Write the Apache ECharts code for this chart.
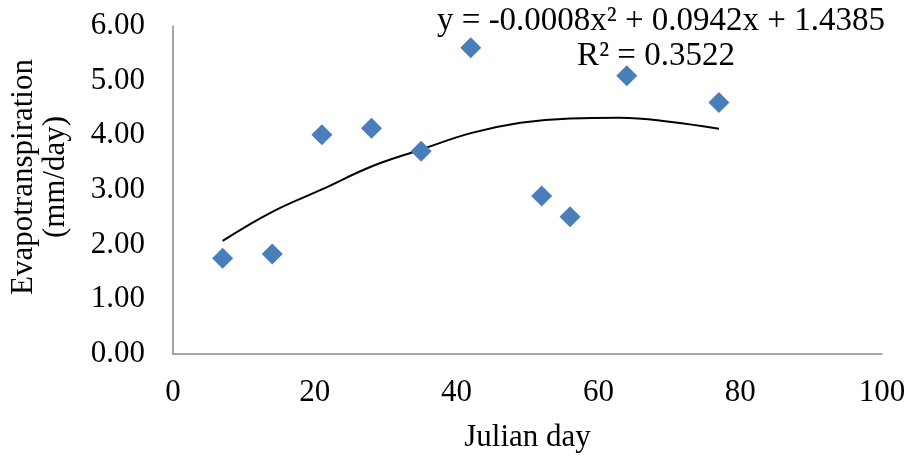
<!DOCTYPE html>
<html>
<head>
<meta charset="utf-8">
<script src="https://cdn.jsdelivr.net/npm/echarts@6/dist/echarts.min.js"></script>
<style>
  html, body { margin: 0; padding: 0; background: #fff; }
  #chart { width: 911px; height: 458px; }
</style>
</head>
<body>
<div id="chart"></div>
<script>
// measured points (Julian day, mm/day)
var days = [7, 14, 21, 28, 35, 42, 52, 56, 64, 77];
var et = [1.75, 1.83, 4.01, 4.13, 3.71, 5.60, 2.89, 2.51, 5.09, 4.60];
// trend curve
var trendDays = [7, 14, 21, 28, 35, 42, 49, 56, 63, 70, 77];
var trendEt = [2.07, 2.60, 3.01, 3.43, 3.74, 4.04, 4.23, 4.31, 4.32, 4.25, 4.12];
var eqText = 'y = -0.0008x\u00b2 + 0.0942x + 1.4385';
var r2Text = 'R\u00b2 = 0.3522';

var font = '"Liberation Serif", "Times New Roman", serif';
var axisGray = '#898989';
var fs = 31;

var myChart = echarts.init(document.getElementById('chart'));

var option = {
    animation: false,
    grid: { left: 173, right: 29, top: 26, bottom: 104, outerBoundsMode: 'none' },
    xAxis: {
        type: 'value',
        min: 0, max: 100, interval: 20,
        name: 'Julian day',
        nameLocation: 'middle',
        nameGap: 68,
        nameTextStyle: { fontFamily: font, fontSize: fs, color: '#000' },
        axisLine: { show: true, lineStyle: { color: axisGray, width: 1.5 } },
        axisTick: { show: false },
        splitLine: { show: false },
        axisLabel: { fontFamily: font, fontSize: fs, color: '#000', margin: 23 }
    },
    yAxis: {
        type: 'value',
        min: 0, max: 6, interval: 1,
        name: 'Evapotranspiration\n(mm/day)',
        nameLocation: 'middle',
        nameGap: 101,
        nameRotate: 90,
        nameTextStyle: {
            fontFamily: font, fontSize: fs, color: '#000', lineHeight: 32,
            padding: [0, 0, 0, 26]
        },
        axisLine: { show: true, lineStyle: { color: axisGray, width: 1.5 } },
        axisTick: { show: false },
        splitLine: { show: false },
        axisLabel: {
            fontFamily: font, fontSize: fs, color: '#000', margin: 28,
            formatter: function (v) { return v.toFixed(2); }
        }
    },
    graphic: [
        {
            type: 'text', x: 661, y: 5,
            style: { text: eqText, font: '33px ' + font, fill: '#000', align: 'center' }
        },
        {
            type: 'text', x: 656, y: 40,
            style: { text: r2Text, font: '33px ' + font, fill: '#000', align: 'center' }
        }
    ],
    series: [
        {
            type: 'line',
            data: trendDays.map(function (d, i) { return [d, trendEt[i]]; }),
            smooth: 0.4,
            showSymbol: false,
            lineStyle: { color: '#000', width: 2 },
            z: 1
        },
        {
            type: 'scatter',
            data: days.map(function (d, i) { return [d, et[i]]; }),
            symbol: 'diamond',
            symbolSize: [21, 21],
            itemStyle: { color: '#4A7EBB', opacity: 1 },
            z: 2
        }
    ]
};
myChart.setOption(option);
</script>
</body>
</html>
